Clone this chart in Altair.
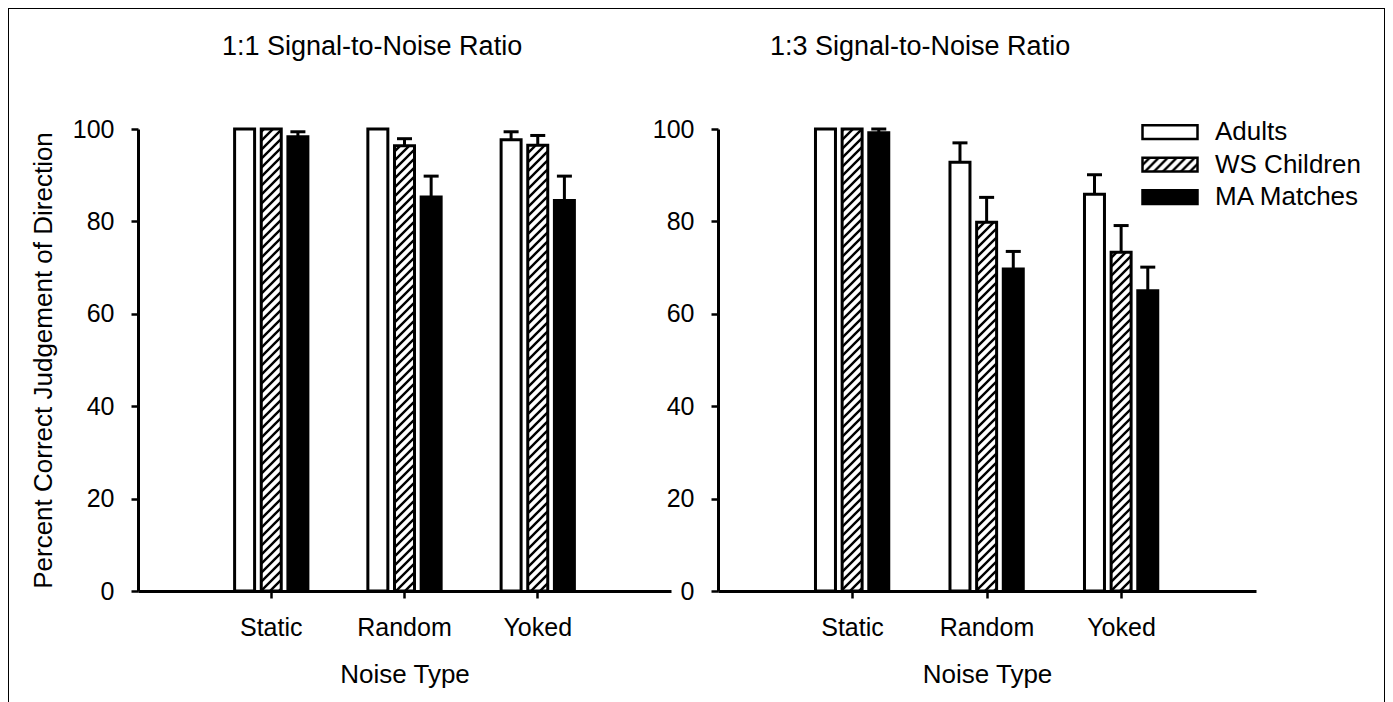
import altair as alt
import pandas as pd
from altair.utils.html import TEMPLATES

FONT = "Liberation Sans"

noise_types = ["Static", "Random", "Yoked"]
groups = ["Adults", "WS Children", "MA Matches"]
panel_titles = ["1:1 Signal-to-Noise Ratio", "1:3 Signal-to-Noise Ratio"]
y_title = "Percent Correct Judgement of Direction"
x_title = "Noise Type"
y_ticks = [0, 20, 40, 60, 80, 100]

# 1:1 Signal-to-Noise Ratio (means, and upward error bar length)
adults_11 = [100.0, 100.0, 97.7]
ws_11 = [100.0, 96.4, 96.5]
ma_11 = [98.3, 85.3, 84.5]
adults_11_err = [0.0, 0.0, 1.7]
ws_11_err = [0.0, 1.5, 2.1]
ma_11_err = [1.1, 4.5, 5.3]

# 1:3 Signal-to-Noise Ratio
adults_13 = [100.0, 92.8, 85.9]
ws_13 = [100.0, 79.8, 73.3]
ma_13 = [99.2, 69.7, 65.0]
adults_13_err = [0.0, 4.2, 4.2]
ws_13_err = [0.0, 5.4, 5.8]
ma_13_err = [0.8, 3.8, 5.1]

fill_range = ["white", "url(#hatch)", "black"]


def make_df(means, errs):
    rows = []
    for g, m_list, e_list in zip(groups, means, errs):
        for n, m, e in zip(noise_types, m_list, e_list):
            rows.append({"noise": n, "group": g, "value": m, "err": e, "upper": m + e})
    return pd.DataFrame(rows)


df11 = make_df([adults_11, ws_11, ma_11], [adults_11_err, ws_11_err, ma_11_err])
df13 = make_df([adults_13, ws_13, ma_13], [adults_13_err, ws_13_err, ma_13_err])

legend = alt.Legend(
    title=None,
    orient="none",
    legendX=1003,
    legendY=-12,
    symbolType="M-1,-0.25H1V0.25H-1Z",
    symbolSize=3025,
    symbolStrokeColor="black",
    symbolStrokeWidth=2.5,
    clipHeight=30,
    rowPadding=2.5,
    labelOffset=16,
    padding=0,
)


def panel(df, title, title_dx, width, show_ytitle):
    x = alt.X(
        "noise:N",
        sort=noise_types,
        scale=alt.Scale(domain=noise_types, paddingInner=0.4, paddingOuter=0.7),
        axis=alt.Axis(title=x_title, labelAngle=0, labelPadding=17, titlePadding=21),
    )
    xo = alt.XOffset(
        "group:N",
        sort=groups,
        scale=alt.Scale(domain=groups, paddingInner=0.25, paddingOuter=0.125),
    )
    yax = alt.Axis(
        values=y_ticks,
        title=y_title if show_ytitle else None,
        labelPadding=17,
        titlePadding=16,
    )
    y = alt.Y("value:Q", scale=alt.Scale(domain=[0, 100], nice=False), axis=yax)
    base = alt.Chart(df)
    bars = base.mark_bar(stroke="black", strokeWidth=3).encode(
        x=x,
        xOffset=xo,
        y=y,
        fill=alt.Fill(
            "group:N",
            sort=groups,
            scale=alt.Scale(domain=groups, range=fill_range),
            legend=legend,
        ),
    )
    eb = base.transform_filter("datum.err > 0")
    rules = eb.mark_rule(strokeWidth=3, color="black").encode(
        x=x, xOffset=xo, y="value:Q", y2="upper:Q"
    )
    caps = eb.mark_tick(size=15, thickness=3, color="black", opacity=1).encode(
        x=x, xOffset=xo, y="upper:Q"
    )
    return alt.layer(bars, rules, caps).properties(
        width=width,
        height=462,
        title=alt.Title(
            title,
            anchor="start",
            frame="group",
            dx=title_dx,
            baseline="alphabetic",
            offset=35,
        ),
    )


left = panel(df11, panel_titles[0], 84, 533, True)
right = panel(df13, panel_titles[1], 52, 538, False)

chart = (
    alt.hconcat(left, right, spacing=47, bounds="flush")
    .properties(padding={"left": 21, "top": 24, "right": 10, "bottom": 10})
    .configure_view(strokeWidth=0)
    .configure_axis(
        domainColor="black",
        domainWidth=3,
        tickColor="black",
        tickWidth=2.5,
        tickSize=7,
        labelColor="black",
        labelFont=FONT,
        labelFontSize=25,
        titleFont=FONT,
        titleFontSize=26,
        titleFontWeight="normal",
        titleColor="black",
        grid=False,
    )
    .configure_title(font=FONT, fontSize=27, fontWeight="normal", color="black")
    .configure_legend(labelFont=FONT, labelFontSize=26, labelColor="black")
)

EXTRA = (
    "<style>body{overflow:hidden;}"
    "#vis.vega-embed{border:1.5px solid #000;box-sizing:border-box;height:710px;}</style>"
    '<svg width="0" height="0" style="position:absolute"><defs>'
    '<pattern id="hatch" patternUnits="userSpaceOnUse" width="9" height="9">'
    '<rect width="9" height="9" fill="#fff"/>'
    '<path d="M-2,2L2,-2M0,9L9,0M7,11L11,7" stroke="#000" stroke-width="2.4"/>'
    "</pattern></defs></svg>"
)


class HatchTemplate:
    def render(self, **kw):
        html = TEMPLATES["standard"].render(**kw)
        return html.replace("<body>", "<body>" + EXTRA, 1)


chart.save(
    "out.html",
    embed_options={"renderer": "svg", "actions": False},
    template=HatchTemplate(),
)
